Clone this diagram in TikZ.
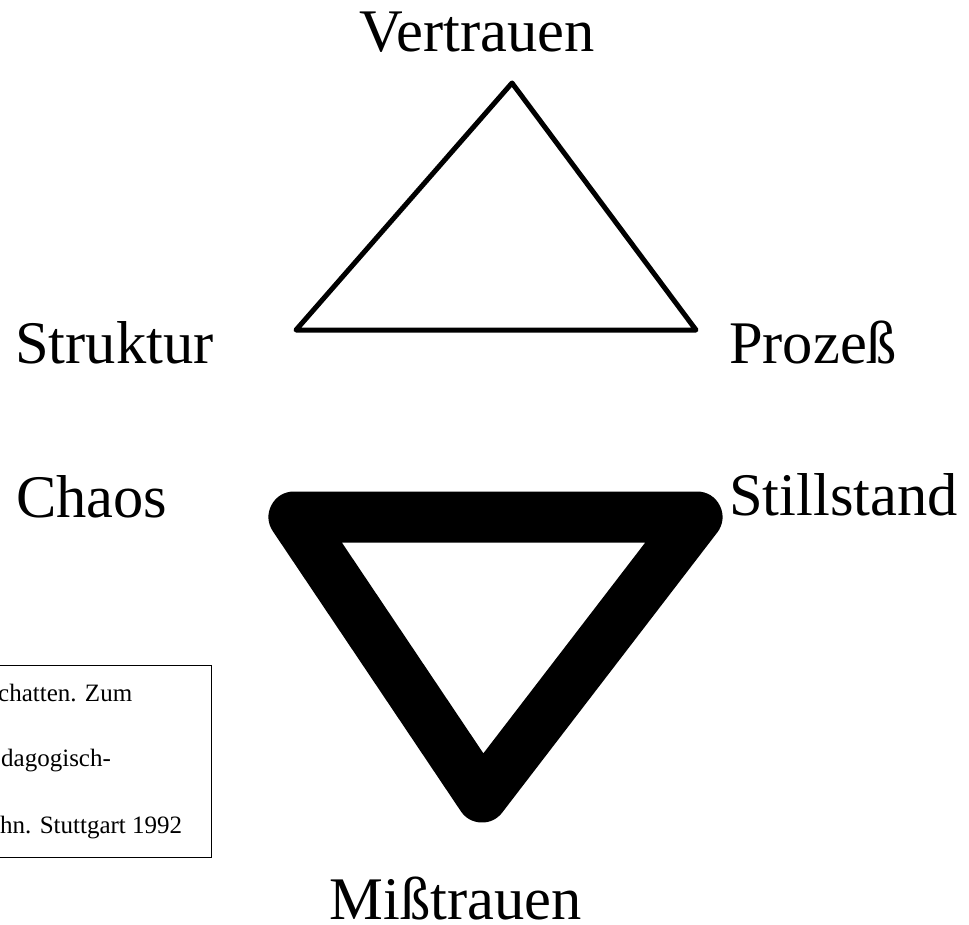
\documentclass[tikz,border=0pt]{standalone}
\usepackage{fontspec}
\setmainfont{Liberation Serif}
\usetikzlibrary{positioning}
\tikzset{
  term/.style   ={inner sep=0pt,anchor=base west,font=\fontsize{60.5}{72}\selectfont},
  srcline/.style={inner sep=0pt,anchor=base west,font=\fontsize{25}{30}\selectfont},
  srcbox/.style ={rectangle,draw,line width=1.3pt,inner sep=0pt,anchor=north east,
                  minimum width=240pt,minimum height=192pt},
  trust/.style  ={line width=5pt,line join=round},
  mistrust/.style={line width=51pt,line join=round},
}
\begin{document}
\begin{tikzpicture}[x=1pt,y=-1pt]
  \useasboundingbox (0,0) rectangle (969,925);
  \clip (0,0) rectangle (969,925);

  % upper triangle
  \coordinate (vt) at (512,83);
  \coordinate (vl) at (296,330);
  \coordinate (vr) at (696,330);
  \draw[trust] (vt) -- (vr) -- (vl) -- cycle;

  % lower triangle
  \coordinate (ml) at (294,517);
  \coordinate (mr) at (697,517);
  \coordinate (mb) at (482,797);
  \draw[mistrust] (ml) -- (mr) -- (mb) -- cycle;

  % labels
  \node[term] (vertrauen)  at (359,52)  {Vertrauen};
  \node[term] (struktur)   at (15,363)  {Struktur};
  \node[term] (prozess)    at (729,363) {Prozeß};
  \node[term] (chaos)      at (16,517)  {Chaos};
  \node[term] (stillstand) at (729,515) {Stillstand};
  \node[term,anchor=base east] (misstrauen) at (582,919) {Mißtrauen};

  % source box
  \node[srcbox] (src) at (212,665) {};
  \node[srcline] (src1) at (-2,701) {chatten. Zum};
  \node[srcline] (src2) at (1,766) {dagogisch-};
  \node[srcline] (src3) at (0,833) {hn. Stuttgart 1992};
\end{tikzpicture}
\end{document}
